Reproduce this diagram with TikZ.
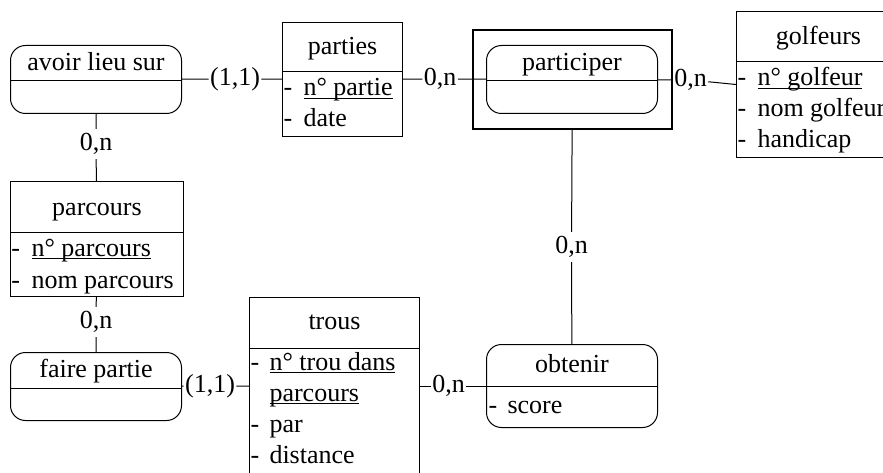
\documentclass[tikz,border=0pt]{standalone}
\usepackage{fontspec}
\setmainfont{Liberation Serif}

% identifiant souligne pres de la ligne de base
\newcommand\cle[1]{\setbox0\hbox{#1}\rlap{\rule[-3pt]{\wd0}{1pt}}\box0}

\tikzset{
  entite/.style={draw, rectangle, anchor=north west, inner sep=0pt},
  assoc/.style={draw, rectangle, rounded corners=15pt, anchor=north west, inner sep=0pt},
  titre/.style={anchor=base, inner sep=0pt},
  attr/.style={anchor=base west, inner sep=0pt},
  card/.style={inner xsep=1pt, inner ysep=4pt},
}

\begin{document}
\begin{tikzpicture}[x=1pt, y=-1pt, line width=1pt, font=\fontsize{26}{31}\selectfont]
    \useasboundingbox (0,0) rectangle (883,473);
    \clip (0,0) rectangle (883,473);

    % Associations
    \node[assoc, minimum width=171pt, minimum height=68pt] (avoir) at (10,45) {};
    \draw ([yshift=-36pt]avoir.north west) -- ([yshift=-36pt]avoir.north east);
    \node[titre] (avoir-t) at ([yshift=-26pt]avoir.north) {avoir lieu sur};

    \node[draw, line width=1.8pt, minimum width=199pt, minimum height=99pt, anchor=north west] (partO) at (472,29) {};
    \node[assoc, minimum width=171pt, minimum height=68pt] (partI) at (486,45) {};
    \draw ([yshift=-36pt]partI.north west) -- ([yshift=-36pt]partI.north east);
    \node[titre] (partI-t) at ([yshift=-26pt]partI.north) {participer};

    \node[assoc, minimum width=171pt, minimum height=68pt] (faire) at (10,352) {};
    \draw ([yshift=-36pt]faire.north west) -- ([yshift=-36pt]faire.north east);
    \node[titre] (faire-t) at ([yshift=-25pt]faire.north) {faire partie};

    \node[assoc, minimum width=171pt, minimum height=83pt] (obtenir) at (486,344) {};
    \draw ([yshift=-42pt]obtenir.north west) -- ([yshift=-42pt]obtenir.north east);
    \node[titre] (obtenir-t) at ([yshift=-28pt]obtenir.north) {obtenir};
    \node[attr] (obtenir-d1) at ([xshift=2pt,yshift=-69pt]obtenir.north west) {-};
    \node[attr] (obtenir-a1) at ([xshift=21pt,yshift=-69pt]obtenir.north west) {score};

    % Entites
    \node[entite, minimum width=120pt, minimum height=114pt] (parties) at (282,22) {};
    \draw ([yshift=-50pt]parties.north west) -- ([yshift=-50pt]parties.north east);
    \node[titre] (parties-t) at ([yshift=-33pt]parties.north) {parties};
    \foreach \dy in {74,105}
        \node[attr] (parties-d\dy) at ([xshift=1pt,yshift=-\dy pt]parties.north west) {-};
    \node[attr] (parties-a1) at ([xshift=21pt,yshift=-74pt]parties.north west) {\cle{n° partie}};
    \node[attr] (parties-a2) at ([xshift=21pt,yshift=-105pt]parties.north west) {date};

    \node[entite, minimum width=164pt, minimum height=146pt] (golfeurs) at (736,11) {};
    \draw ([yshift=-51pt]golfeurs.north west) -- ([yshift=-51pt]golfeurs.north east);
    \node[titre] (golfeurs-t) at ([yshift=-34pt]golfeurs.north) {golfeurs};
    \foreach \dy in {75,106,137}
        \node[attr] (golfeurs-d\dy) at ([xshift=1pt,yshift=-\dy pt]golfeurs.north west) {-};
    \node[attr] (golfeurs-a1) at ([xshift=21pt,yshift=-75pt]golfeurs.north west) {\cle{n° golfeur}};
    \node[attr] (golfeurs-a2) at ([xshift=21pt,yshift=-106pt]golfeurs.north west) {nom golfeur};
    \node[attr] (golfeurs-a3) at ([xshift=21pt,yshift=-137pt]golfeurs.north west) {handicap};

    \node[entite, minimum width=173pt, minimum height=115pt] (parcours) at (10,181) {};
    \draw ([yshift=-51pt]parcours.north west) -- ([yshift=-51pt]parcours.north east);
    \node[titre] (parcours-t) at ([yshift=-34pt]parcours.north) {parcours};
    \foreach \dy in {75,107}
        \node[attr] (parcours-d\dy) at ([xshift=1pt,yshift=-\dy pt]parcours.north west) {-};
    \node[attr] (parcours-a1) at ([xshift=21pt,yshift=-75pt]parcours.north west) {\cle{n° parcours}};
    \node[attr] (parcours-a2) at ([xshift=21pt,yshift=-107pt]parcours.north west) {nom parcours};

    \node[entite, minimum width=170pt, minimum height=193pt] (trous) at (249,297) {};
    \draw ([yshift=-51pt]trous.north west) -- ([yshift=-51pt]trous.north east);
    \node[titre] (trous-t) at ([yshift=-32pt]trous.north) {trous};
    \foreach \dy in {73,135,166}
        \node[attr] (trous-d\dy) at ([xshift=1pt,yshift=-\dy pt]trous.north west) {-};
    \node[attr] (trous-a1) at ([xshift=20pt,yshift=-73pt]trous.north west) {\cle{n° trou dans}};
    \node[attr] (trous-a1b) at ([xshift=20pt,yshift=-104pt]trous.north west) {\cle{parcours}};
    \node[attr] (trous-a2) at ([xshift=20pt,yshift=-135pt]trous.north west) {par};
    \node[attr] (trous-a3) at ([xshift=20pt,yshift=-166pt]trous.north west) {distance};

    % Cardinalites
    \node[card] (c1) at (235,79) {(1,1)};
    \node[card] (c2) at (440,79) {0,n};
    \node[card] (c3) at (690.5,80) {0,n};
    \node[card] (c4) at (571.5,247) {0,n};
    \node[card] (c5) at (448.5,386) {0,n};
    \node[card] (c6) at (210,386) {(1,1)};
    \node[card] (c7) at (96,144) {0,n};
    \node[card] (c8) at (96,322) {0,n};

    % Liens
    \draw (avoir) -- (c1) -- (parties);
    \draw (parties) -- (c2) -- (partI);
    \draw (partI) -- (c3) -- (golfeurs.west);
    \draw (partO) -- (c4) -- (obtenir);
    \draw (trous.east |- c5) -- (c5) -- (obtenir);
    \draw (faire) -- (c6) -- (c6 -| trous.west);
    \draw (avoir) -- (c7) -- (parcours) -- (c8) -- (faire);
\end{tikzpicture}
\end{document}
